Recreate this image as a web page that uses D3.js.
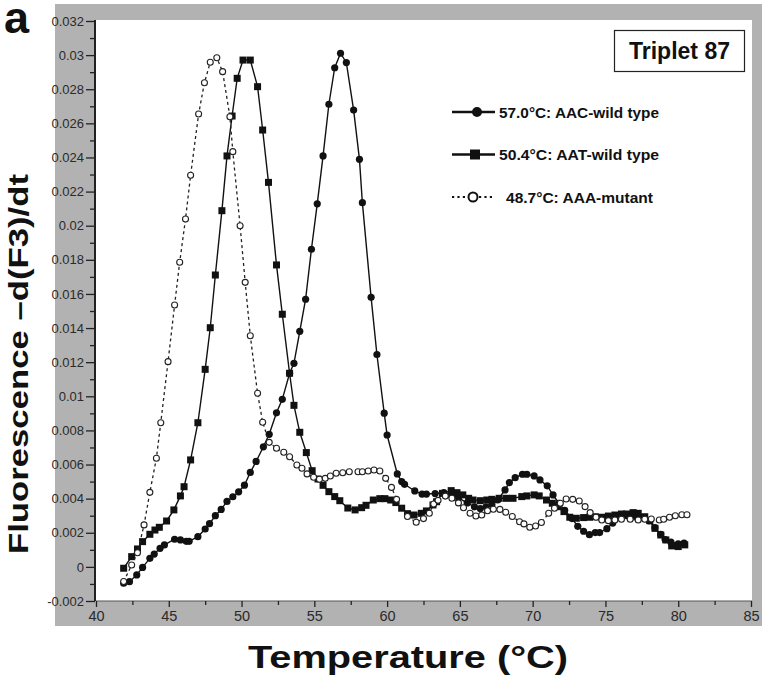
<!DOCTYPE html>
<html>
<head>
<meta charset="utf-8">
<script src="https://cdn.jsdelivr.net/npm/d3@7"></script>
<style>
  body { margin: 0; background: #fff; }
  svg text { font-family: "Liberation Sans", Arial, sans-serif; }
  .tick text { font-family: "Liberation Sans Narrow", "Arial Narrow", "Liberation Sans", sans-serif; fill: #2a2a2a; }
</style>
</head>
<body>
<div id="chart"></div>
<script>
// melting curves, [temperature °C, -d(F3)/dt]
const aac = [
  [41.9,-0.00096],[42.3,-0.00087],[42.8,-0.00047],[43.2,-0.00003],[43.7,0.0005],[44.0,0.00075],
  [44.4,0.00109],[44.7,0.00129],[45.4,0.00162],[45.8,0.00158],[46.2,0.0015],[46.4,0.0015],
  [47.0,0.00177],[47.5,0.00222],[47.8,0.00253],[48.2,0.003],[48.6,0.00337],[49.0,0.00384],
  [49.4,0.00411],[49.8,0.0044],[50.2,0.00479],[50.6,0.00554],[51.0,0.00618],[51.5,0.00704],
  [51.9,0.00777],[52.4,0.00903],[52.8,0.00982],[53.3,0.01135],[53.6,0.01193],[54.0,0.01381],
  [54.4,0.01569],[54.8,0.01862],[55.2,0.02128],[55.6,0.02409],[56.0,0.02712],[56.4,0.02926],
  [56.8,0.03011],[57.2,0.02956],[57.7,0.02678],[58.1,0.02389],[58.3,0.02135],[58.9,0.0158],
  [59.3,0.01245],[59.8,0.00901],[60.0,0.00773],[60.7,0.00545],[61.0,0.005],[61.2,0.00484],
  [61.9,0.00445],[62.4,0.00427],[62.7,0.00427],[63.3,0.0043],[63.9,0.00435],[64.4,0.00425],
  [64.9,0.00405],[65.5,0.00375],[66.0,0.00352],[66.4,0.00342],[66.8,0.00352],[67.2,0.00365],
  [67.6,0.00392],[68.1,0.00451],[68.4,0.00494],[68.8,0.00523],[69.3,0.00543],[69.6,0.00543],
  [70.1,0.00533],[70.5,0.0051],[71.0,0.00475],[71.4,0.00422],[71.8,0.00373],[72.2,0.00332],
  [72.7,0.00283],[73.1,0.00238],[73.5,0.00209],[73.9,0.00189],[74.3,0.00201],[74.6,0.00201],
  [75.1,0.00224],[75.5,0.00257],[76.0,0.00292],[76.5,0.003],[77.0,0.003],[77.5,0.0029],
  [78.0,0.0027],[78.4,0.0023],[78.8,0.0019],[79.1,0.0016],[79.5,0.00145],[80.0,0.00135],[80.4,0.0014]
];
const aat = [
  [41.9,-0.00008],[42.45,0.0006],[42.85,0.00105],[43.2,0.00148],[43.7,0.00191],[44.05,0.00216],
  [44.35,0.00232],[44.85,0.00269],[45.35,0.00334],[45.8,0.00416],[46.05,0.0047],[46.5,0.00627],
  [47.0,0.00845],[47.5,0.01158],[47.85,0.01402],[48.2,0.01711],[48.65,0.02088],[49.0,0.02409],
  [49.35,0.02643],[49.7,0.02864],[50.1,0.02971],[50.6,0.02971],[51.1,0.02815],[51.45,0.02561],
  [51.85,0.02254],[52.4,0.0177],[52.8,0.01481],[53.3,0.01135],[53.6,0.00947],[54.0,0.00789],
  [54.45,0.0067],[54.85,0.00564],[55.25,0.00515],[55.6,0.00478],[56.0,0.00441],[56.4,0.00412],
  [56.75,0.00388],[57.3,0.00345],[57.8,0.00334],[58.25,0.00347],[58.55,0.00361],[59.05,0.00392],
  [59.5,0.004],[59.85,0.004],[60.25,0.00392],[60.6,0.00377],[61.0,0.00344],[61.4,0.00312],
  [61.85,0.00304],[62.35,0.00314],[62.7,0.00328],[63.15,0.00363],[63.4,0.00382],[63.8,0.00431],
  [64.4,0.00447],[64.8,0.00435],[65.2,0.00422],[65.6,0.00402],[65.9,0.00392],[66.4,0.00388],
  [66.85,0.00392],[67.2,0.00396],[67.7,0.00402],[68.2,0.00402],[68.65,0.00402],[69.25,0.00412],
  [69.6,0.00416],[70.1,0.00422],[70.45,0.00416],[70.95,0.00392],[71.35,0.00373],[71.75,0.00353],
  [72.15,0.00324],[72.55,0.00291],[73.0,0.00285],[73.5,0.00289],[73.9,0.00291],[74.3,0.00294],
  [74.75,0.00291],[75.2,0.00298],[75.65,0.00304],[76.1,0.0031],[76.45,0.0031],[76.9,0.00318],
  [77.25,0.00314],[77.7,0.00294],[78.05,0.00271],[78.4,0.00226],[78.8,0.00187],[79.15,0.00158],
  [79.55,0.00123],[80.0,0.00119],[80.45,0.00129]
];
const aaa = [
  [41.9,-0.00086],[42.45,0.00011],[42.85,0.00083],[43.3,0.00246],[43.7,0.00437],[44.15,0.00637],
  [44.45,0.00845],[44.95,0.01203],[45.4,0.01535],[45.75,0.01786],[46.15,0.02039],[46.5,0.02296],
  [47.05,0.02655],[47.45,0.02838],[47.85,0.02958],[48.3,0.02985],[48.7,0.02903],[49.2,0.02639],
  [49.4,0.02434],[49.9,0.02],[50.25,0.01668],[50.6,0.01355],[51.1,0.01018],[51.45,0.00848],
  [51.9,0.0073],[52.4,0.00695],[52.9,0.00672],[53.3,0.00646],[53.8,0.00597],[54.15,0.00578],
  [54.5,0.00545],[54.95,0.00525],[55.35,0.00514],[55.75,0.00519],[56.1,0.00533],[56.5,0.00549],
  [56.95,0.00552],[57.4,0.00558],[58.0,0.00558],[58.3,0.00558],[58.7,0.00562],[59.1,0.00568],
  [59.5,0.00562],[59.9,0.00519],[60.3,0.00466],[60.65,0.00396],[61.4,0.00295],[62.0,0.00262],
  [62.5,0.00283],[62.9,0.00314],[63.2,0.00369],[63.5,0.0039],[64.0,0.00415],[64.45,0.00402],
  [64.9,0.00375],[65.25,0.00347],[65.7,0.00314],[66.1,0.00298],[66.5,0.00304],[66.9,0.00329],
  [67.3,0.00338],[67.75,0.00337],[68.15,0.0032],[68.6,0.00295],[69.1,0.00265],[69.4,0.00252],
  [69.8,0.00232],[70.2,0.0024],[70.6,0.0026],[71.1,0.00314],[71.5,0.00344],[71.9,0.00373],
  [72.3,0.00398],[72.75,0.00396],[73.2,0.00386],[73.6,0.00353],[73.95,0.00318],[74.35,0.00291],
  [74.75,0.00275],[75.2,0.00271],[75.65,0.00275],[76.1,0.00279],[76.7,0.00279],[77.25,0.00275],
  [77.7,0.00279],[78.15,0.00281],[78.7,0.00275],[79.0,0.00279],[79.4,0.00291],[79.8,0.003],
  [80.25,0.00306],[80.6,0.00306]
];

const xMajor = [40, 45, 50, 55, 60, 65, 70, 75, 80, 85];
const xMinor = [42.5, 47.5, 52.5, 57.5, 62.5, 67.5, 72.5, 77.5, 82.5];
const yMajor = [-0.002, 0, 0.002, 0.004, 0.006, 0.008, 0.01, 0.012, 0.014, 0.016,
  0.018, 0.02, 0.022, 0.024, 0.026, 0.028, 0.03, 0.032];
const yMinor = [-0.001, 0.001, 0.003, 0.005, 0.007, 0.009, 0.011, 0.013, 0.015,
  0.017, 0.019, 0.021, 0.023, 0.025, 0.027, 0.029, 0.031];
const legendLabels = ['57.0°C: AAC-wild type', '50.4°C: AAT-wild type', '48.7°C: AAA-mutant'];

const W = 767, H = 675;
const svg = d3.select('#chart').append('svg')
  .attr('width', W).attr('height', H);

svg.append('rect').attr('width', W).attr('height', H).attr('fill', '#fff');
// grey frame and white plot area
svg.append('rect').attr('x', 55).attr('y', 4).attr('width', 707).attr('height', 622).attr('fill', '#b2b2b2');
svg.append('rect').attr('x', 96).attr('y', 20).attr('width', 656).attr('height', 581).attr('fill', '#fff');

const x = d3.scaleLinear().domain([40, 85]).range([96, 751]);
const y = d3.scaleLinear().domain([-0.002, 0.032]).range([601, 21]);

const fmt = d => String(+d.toFixed(3));

// axes
const gy = svg.append('g').attr('transform', 'translate(95,0)')
  .call(d3.axisLeft(y).tickValues(yMajor).tickFormat(fmt).tickSize(9).tickPadding(2));
svg.append('g').attr('transform', 'translate(95,0)')
  .call(d3.axisLeft(y).tickValues(yMinor).tickFormat('').tickSize(5))
  .select('.domain').remove();
const gx = svg.append('g').attr('transform', 'translate(0,601)')
  .call(d3.axisBottom(x).tickValues(xMajor).tickSize(6).tickPadding(4));
svg.append('g').attr('transform', 'translate(0,601)')
  .call(d3.axisBottom(x).tickValues(xMinor).tickFormat('').tickSize(4))
  .select('.domain').remove();

svg.selectAll('.tick line').attr('stroke', '#222').attr('stroke-width', 1.3);
gy.select('.domain').attr('stroke', '#222').attr('stroke-width', 2).attr('d', 'M0,601V20');
gx.select('.domain').attr('stroke', '#555').attr('stroke-width', 1).attr('d', 'M96,0H752');
gy.selectAll('.tick text').style('font-size', '13px');
gx.selectAll('.tick text').style('font-size', '14.5px');

const line = d3.line().x(d => x(d[0])).y(d => y(d[1]));

// AAC wild type
svg.append('path').datum(aac).attr('d', line)
  .attr('fill', 'none').attr('stroke', '#111').attr('stroke-width', 1.4);
svg.append('g').selectAll('circle').data(aac).join('circle')
  .attr('cx', d => x(d[0])).attr('cy', d => y(d[1])).attr('r', 3.6).attr('fill', '#111');

// AAT wild type
svg.append('path').datum(aat).attr('d', line)
  .attr('fill', 'none').attr('stroke', '#111').attr('stroke-width', 1.4);
svg.append('g').selectAll('rect').data(aat).join('rect')
  .attr('x', d => x(d[0]) - 3.5).attr('y', d => y(d[1]) - 3.5)
  .attr('width', 7).attr('height', 7).attr('fill', '#111');

// AAA mutant
svg.append('path').datum(aaa).attr('d', line)
  .attr('fill', 'none').attr('stroke', '#222').attr('stroke-width', 1.3)
  .attr('stroke-dasharray', '3,3');
svg.append('g').selectAll('circle').data(aaa).join('circle')
  .attr('cx', d => x(d[0])).attr('cy', d => y(d[1])).attr('r', 3)
  .attr('fill', '#fff').attr('stroke', '#222').attr('stroke-width', 1.1);

// legend
const lg = svg.append('g');
legendLabels.forEach((lab, i) => {
  const ly = 112 + i * 42.5;
  const row = lg.append('g');
  if (i < 2) {
    row.append('line').attr('x1', 452).attr('x2', 495).attr('y1', ly).attr('y2', ly)
      .attr('stroke', '#111').attr('stroke-width', 2.6);
  } else {
    row.append('line').attr('x1', 452).attr('x2', 493).attr('y1', ly).attr('y2', ly)
      .attr('stroke', '#111').attr('stroke-width', 2.2).attr('stroke-dasharray', '2.2,3.2');
  }
  if (i === 0) row.append('circle').attr('cx', 477).attr('cy', ly).attr('r', 5).attr('fill', '#111');
  if (i === 1) row.append('rect').attr('x', 470).attr('y', ly - 5).attr('width', 10).attr('height', 10).attr('fill', '#111');
  if (i === 2) row.append('circle').attr('cx', 473).attr('cy', ly).attr('r', 4.5)
    .attr('fill', '#fff').attr('stroke', '#111').attr('stroke-width', 2);
  row.append('text').attr('x', i < 2 ? 499 : 506).attr('y', ly + 5.5)
    .attr('textLength', i < 2 ? 160 : 147).attr('lengthAdjust', 'spacingAndGlyphs')
    .style('font-size', '15px').style('font-weight', 'bold').attr('fill', '#111').text(lab);
});

// title box
svg.append('rect').attr('x', 614.5).attr('y', 30.5).attr('width', 130).attr('height', 41)
  .attr('fill', '#fff').attr('stroke', '#222').attr('stroke-width', 1.2);
svg.append('text').attr('x', 679.5).attr('y', 59).attr('text-anchor', 'middle')
  .style('font-size', '23px').style('font-weight', 'bold').attr('fill', '#111').text('Triplet 87');

// axis titles
svg.append('text').attr('transform', 'translate(28,364) rotate(-90)')
  .attr('text-anchor', 'middle').attr('textLength', 380).attr('lengthAdjust', 'spacingAndGlyphs')
  .style('font-size', '27px').style('font-weight', 'bold')
  .attr('fill', '#111').text('Fluorescence –d(F3)/dt');
svg.append('text').attr('x', 408).attr('y', 668).attr('text-anchor', 'middle')
  .attr('textLength', 320).attr('lengthAdjust', 'spacingAndGlyphs')
  .style('font-size', '32px').style('font-weight', 'bold').attr('fill', '#111')
  .text('Temperature (°C)');

svg.append('text').attr('x', 4).attr('y', 33)
  .style('font-size', '45px').style('font-weight', 'bold').attr('fill', '#111').text('a');
</script>
</body>
</html>
